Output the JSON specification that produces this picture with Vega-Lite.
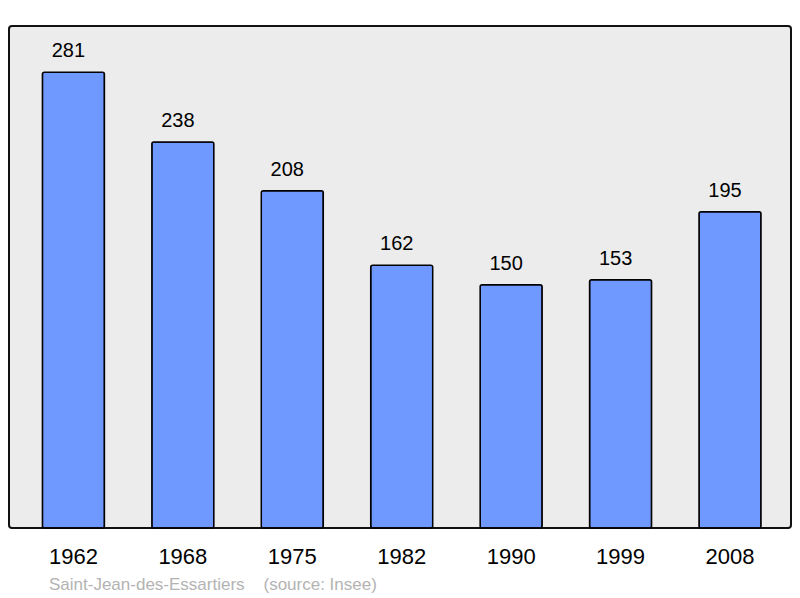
{
  "$schema": "https://vega.github.io/schema/vega-lite/v6.json",
  "width": 782,
  "height": 502,
  "autosize": "none",
  "padding": {"left": 9, "top": 26, "right": 9, "bottom": 70},
  "background": "white",
  "config": {
    "view": {"fill": "#ececec", "stroke": "#111111", "strokeWidth": 2, "cornerRadius": 3},
    "font": "Liberation Sans"
  },
  "title": {
    "text": "Saint-Jean-des-Essartiers\u00a0\u00a0\u00a0\u00a0(source: Insee)",
    "orient": "bottom",
    "anchor": "start",
    "frame": "group",
    "dx": 40,
    "offset": 10,
    "fontSize": 17,
    "fontWeight": "normal",
    "color": "#b3b3b3",
    "font": "Liberation Sans"
  },
  "data": {
    "values": [
      {"year": "1962", "pop": 281},
      {"year": "1968", "pop": 238},
      {"year": "1975", "pop": 208},
      {"year": "1982", "pop": 162},
      {"year": "1990", "pop": 150},
      {"year": "1999", "pop": 153},
      {"year": "2008", "pop": 195}
    ]
  },
  "encoding": {
    "x": {
      "field": "year",
      "type": "ordinal",
      "sort": null,
      "scale": {"paddingInner": 0.4334, "paddingOuter": 0.2897, "align": 0.527},
      "axis": {
        "title": null,
        "ticks": false,
        "domain": false,
        "labelAngle": 0,
        "labelFontSize": 22,
        "labelColor": "#000000",
        "labelFont": "Liberation Sans",
        "labelBaseline": "alphabetic",
        "labelPadding": 35
      }
    },
    "y": {
      "field": "pop",
      "type": "quantitative",
      "scale": {"domain": [0, 309.5], "nice": false, "zero": true},
      "axis": null
    }
  },
  "layer": [
    {
      "mark": {"type": "bar", "fill": "#7099ff", "stroke": "#000000", "strokeWidth": 1.5, "cornerRadius": 2}
    },
    {
      "mark": {"type": "text", "baseline": "alphabetic", "dy": -15, "dx": -5, "fontSize": 20, "color": "#000000", "font": "Liberation Sans"},
      "encoding": {"text": {"field": "pop", "type": "quantitative"}}
    }
  ]
}
